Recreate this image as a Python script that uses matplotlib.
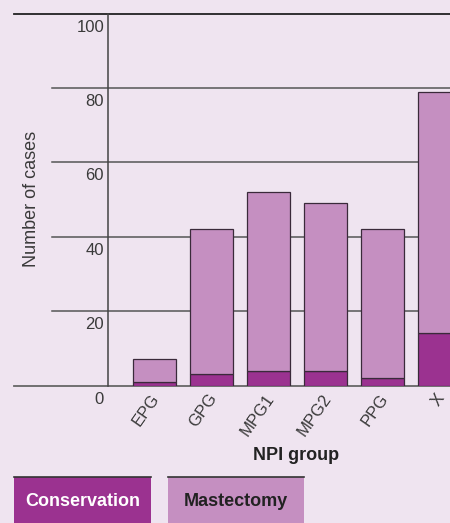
import matplotlib.pyplot as plt
from matplotlib.patches import Rectangle
from matplotlib.transforms import blended_transform_factory, offset_copy

# Data
groups = ['EPG', 'GPG', 'MPG1', 'MPG2', 'PPG', 'X']
conservation = [1, 3, 4, 4, 2, 14]
mastectomy = [6, 39, 48, 45, 40, 65]
y_ticks = [0, 20, 40, 60, 80, 100]

bg = '#EFE4F0'
cons_color = '#9B3290'
mast_color = '#C58FC1'
plt.rcParams['font.family'] = ['Liberation Sans', 'DejaVu Sans']

W, H = 450, 523
fig = plt.figure(figsize=(W / 100, H / 100), dpi=100, facecolor=bg)


def fx(px):
    return px / W


def fy(py):
    return 1 - py / H


ax = fig.add_axes([fx(108), fy(385.5), 1 - fx(108), fy(13.5) - fy(385.5)])
ax.set_facecolor(bg)

x = list(range(len(groups)))
ax.bar(x, conservation, width=0.754, color=cons_color, edgecolor='#3a2a3a', linewidth=0.9, zorder=3)
ax.bar(x, mastectomy, bottom=conservation, width=0.754, color=mast_color,
       edgecolor='#3a2a3a', linewidth=0.9, zorder=3)

ax.set_xlim(-0.816, 5.18)
ax.set_ylim(0, 100)

# spines / ticks
for side in ['top', 'right', 'bottom']:
    ax.spines[side].set_visible(False)
ax.spines['left'].set_color('#444444')
ax.spines['left'].set_linewidth(1.1)
ax.set_xticks([])
ax.set_yticks([])

# horizontal rules, drawn in figure x coordinates so they extend left of the axis
trans = blended_transform_factory(fig.transFigure, ax.transData)
for v in y_ticks:
    if v == 100:
        x0, col, lw = fx(14), '#222222', 1.3
    elif v == 0:
        x0, col, lw = fx(14), '#666666', 1.3
    else:
        x0, col, lw = fx(52), '#555555', 1.1
    ax.plot([x0, 1], [v, v], transform=trans, color=col, lw=lw, clip_on=False, zorder=1)

# y tick labels sit just below each rule
lab_trans = offset_copy(blended_transform_factory(fig.transFigure, ax.transData),
                        fig=fig, y=-6, units='dots')
for v in y_ticks:
    ax.text(fx(104), v, str(v), transform=lab_trans, ha='right', va='top',
            fontsize=12, color='#3a3a3a')

ax.text(fx(31), fy(199), 'Number of cases', transform=fig.transFigure, rotation=90,
        ha='center', va='center', fontsize=13, color='#3a3a3a')

# x tick labels
xl_trans = offset_copy(ax.transData, fig=fig, x=2, y=-10, units='dots')
for i, g in enumerate(groups):
    ax.text(i, 0, g, transform=xl_trans, rotation=55, rotation_mode='anchor',
            ha='right', va='center', fontsize=12, color='#3a3a3a', clip_on=False)

fig.text(fx(296), fy(455), 'NPI group', ha='center', va='center',
         fontsize=13, fontweight='bold', color='#222222')

# legend boxes along the bottom
legend = [('Conservation', cons_color, 'white', 14, 151),
          ('Mastectomy', mast_color, '#222222', 168, 304)]
for name, col, tcol, x0, x1 in legend:
    fig.patches.append(Rectangle((fx(x0), 0), fx(x1) - fx(x0), fy(477),
                                 transform=fig.transFigure, facecolor=col, edgecolor='none'))
    fig.add_artist(plt.Line2D([fx(x0), fx(x1)], [fy(477), fy(477)],
                              transform=fig.transFigure, color='#333333', lw=1.2))
    fig.text((fx(x0) + fx(x1)) / 2, fy(502), name, ha='center', va='center',
             fontsize=13, fontweight='bold', color=tcol)

fig.savefig('out.png', dpi=100, facecolor=bg)
